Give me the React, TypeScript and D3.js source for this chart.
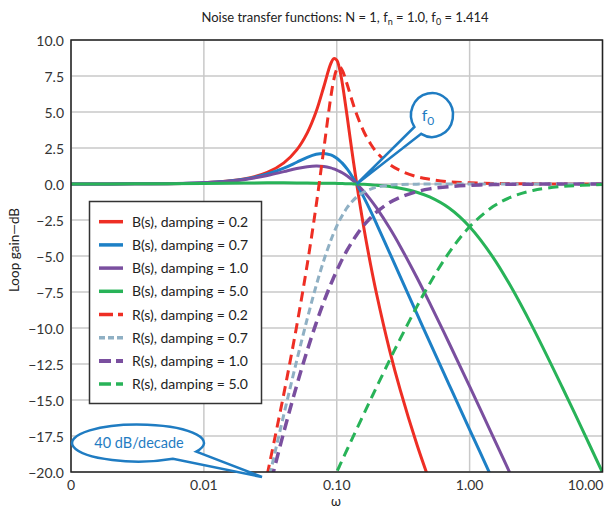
import React from "react";
import * as d3 from "d3";

// Frequency (ω) sample points shared by all series
const freq = [0.001, 0.003, 0.01, 0.02, 0.03, 0.04, 0.05, 0.06, 0.07, 0.08, 0.09, 0.095, 0.1, 0.105, 0.11, 0.12, 0.13, 0.1414, 0.16, 0.18, 0.2, 0.25, 0.3, 0.4, 0.5, 0.7, 1, 1.5, 2, 3, 5, 7, 10];

// Loop gain (dB)
const bDamp02 = [0.0, 0.01, 0.09, 0.35, 0.81, 1.47, 2.37, 3.55, 5.03, 6.77, 8.34, 8.71, 8.6, 7.99, 7.01, 4.63, 2.31, 0.0, -3.05, -5.62, -7.69, -11.55, -14.28, -18.06, -20.65, null, null, null, null, null, null, null, null];
const bDamp07 = [0.0, 0.01, 0.09, 0.33, 0.69, 1.1, 1.51, 1.85, 2.06, 2.12, 2.02, 1.92, 1.79, 1.63, 1.45, 1.03, 0.56, 0.0, -0.93, -1.89, -2.8, -4.78, -6.42, -8.99, -10.97, -13.93, -17.05, -20.59, null, null, null, null, null];
const bDamp10 = [0.0, 0.01, 0.08, 0.3, 0.59, 0.86, 1.07, 1.2, 1.25, 1.22, 1.12, 1.05, 0.97, 0.88, 0.78, 0.55, 0.3, 0.0, -0.52, -1.1, -1.68, -3.06, -4.32, -6.48, -8.26, -11.04, -14.06, -17.54, -20.02, null, null, null, null];
const bDamp50 = [0.0, 0.01, 0.04, 0.07, 0.08, 0.08, 0.07, 0.07, 0.06, 0.06, 0.05, 0.05, 0.04, 0.04, 0.03, 0.02, 0.01, 0.0, -0.02, -0.05, -0.09, -0.18, -0.3, -0.57, -0.9, -1.67, -2.97, -5.09, -6.97, -9.99, -14.15, -16.99, -20.04];
const rDamp02 = [null, null, null, null, -20.17, -14.56, -9.84, -5.57, -1.49, 2.47, 5.98, 7.24, 7.96, 8.13, 7.9, 6.89, 5.83, 4.82, 3.63, 2.78, 2.2, 1.36, 0.93, 0.51, 0.33, 0.16, 0.08, 0.04, 0.02, 0.01, 0.0, 0.0, 0.0];
const rDamp07 = [null, null, null, null, -20.94, -16.0, -12.26, -9.35, -7.06, -5.29, -3.94, -3.39, -2.92, -2.52, -2.18, -1.63, -1.23, -0.9, -0.56, -0.35, -0.22, -0.08, -0.03, -0.01, 0.0, 0.0, 0.0, 0.0, 0.0, 0.0, 0.0, 0.0, 0.0];
const rDamp10 = [null, null, null, null, -21.66, -17.21, -13.98, -11.55, -9.66, -8.17, -6.98, -6.48, -6.02, -5.61, -5.23, -4.58, -4.04, -3.52, -2.86, -2.34, -1.94, -1.29, -0.92, -0.53, -0.34, -0.18, -0.09, -0.04, -0.02, -0.01, 0.0, 0.0, 0.0];
const rDamp50 = [null, null, null, null, null, null, null, null, null, null, -20.92, -20.45, -20.0, -19.58, -19.17, -18.42, -17.73, -17.01, -15.96, -14.96, -14.08, -12.23, -10.76, -8.53, -6.92, -4.77, -2.97, -1.57, -0.95, -0.45, -0.17, -0.09, -0.04];

const seriesNames = [
  "B(s), damping = 0.2",
  "B(s), damping = 0.7",
  "B(s), damping = 1.0",
  "B(s), damping = 5.0",
  "R(s), damping = 0.2",
  "R(s), damping = 0.7",
  "R(s), damping = 1.0",
  "R(s), damping = 5.0",
];
const seriesValues = [bDamp02, bDamp07, bDamp10, bDamp50, rDamp02, rDamp07, rDamp10, rDamp50];

const xTicks = [0.001, 0.01, 0.1, 1, 10];
const xTickLabels = ["0", "0.01", "0.10", "1.00", "10.00"];
const yTicks = [10, 7.5, 5, 2.5, 0, -2.5, -5, -7.5, -10, -12.5, -15, -17.5, -20];
const yTickLabels = ["10.0", "7.5", "5.0", "2.5", "0.0", "\u22122.5", "\u22125.0", "\u22127.5", "\u221210.0", "\u221212.5", "\u221215.0", "\u221217.5", "\u221220.0"];

// styles
const RED = "#ee2e24";
const BLUE = "#1d80c6";
const PURPLE = "#7a4f9f";
const GREEN = "#28b358";
const GREYBLUE = "#8fb0c4";
const CALLOUT = "#1f7cc2";
const colors = [RED, BLUE, PURPLE, GREEN, RED, GREYBLUE, PURPLE, GREEN];
const dashes = [null, null, null, null, "10,6", "7,4", "11,6", "10,6"];
const widths = [3, 3, 3, 3, 3, 3, 3.5, 3];

const FONT = "Lato, 'Open Sans', sans-serif";

const L = 71, R = 602.5, T = 40, B = 472;

export default function App() {
  const x = d3.scaleLog().domain([0.001, 10]).range([L, R]);
  const y = d3.scaleLinear().domain([-20, 10]).range([B, T]);

  const line = d3
    .line<[number, number | null]>()
    .defined((d) => d[1] !== null)
    .x((d) => x(d[0]))
    .y((d) => y(d[1] as number))
    .curve(d3.curveCatmullRom.alpha(0.5));

  const ellipsePt = (cx: number, cy: number, rx: number, ry: number, deg: number) => {
    const t = (deg * Math.PI) / 180;
    return [cx + rx * Math.cos(t), cy + ry * Math.sin(t)];
  };
  const bubble = (cx: number, cy: number, rx: number, ry: number, a1: number, a2: number, tip: [number, number]) => {
    const p1 = ellipsePt(cx, cy, rx, ry, a1);
    const p2 = ellipsePt(cx, cy, rx, ry, a2);
    return `M${p1[0]},${p1[1]} A${rx},${ry} 0 1 1 ${p2[0]},${p2[1]} L${tip[0]},${tip[1]} Z`;
  };

  const f0x = x(0.1414);
  const f0y = y(0);

  return (
    <svg width={606} height={508} style={{ position: "absolute", left: 0, top: 0, background: "#fff" }} fontFamily={FONT}>
      <defs>
        <clipPath id="plotClip">
          <rect x={L} y={T} width={R - L} height={B - T} />
        </clipPath>
      </defs>
      {/* title */}
      <text x={345} y={22} textAnchor="middle" fontSize={13} fill="#222">
        Noise transfer functions: N = 1, f
        <tspan dy={3} fontSize={9}>n</tspan>
        <tspan dy={-3}> = 1.0, f</tspan>
        <tspan dy={3} fontSize={9}>0</tspan>
        <tspan dy={-3}> = 1.414</tspan>
      </text>
      {/* grid */}
      {yTicks.map((t) => (
        <line key={"gy" + t} x1={L} x2={R} y1={y(t)} y2={y(t)} stroke="#c9c9c9" strokeWidth={1.5} />
      ))}
      {xTicks.map((t) => (
        <line key={"gx" + t} x1={x(t)} x2={x(t)} y1={T} y2={B} stroke="#c9c9c9" strokeWidth={1.5} />
      ))}
      {/* curves */}
      <g clipPath="url(#plotClip)">
        {seriesValues.map((vals, i) => (
          <path
            key={"s" + i}
            d={line(freq.map((f, j) => [f, vals[j]] as [number, number | null])) || ""}
            fill="none"
            stroke={colors[i]}
            strokeWidth={widths[i]}
            strokeDasharray={dashes[i] || undefined}
            strokeLinejoin="round"
          />
        ))}
      </g>
      {/* frame */}
      <rect x={L} y={T} width={R - L} height={B - T} fill="none" stroke="#222" strokeWidth={1.5} />
      {/* y tick labels */}
      {yTicks.map((t, i) => (
        <text key={"yl" + t} x={64} y={y(t) + 5.5} textAnchor="end" fontSize={14} fill="#333">
          {yTickLabels[i]}
        </text>
      ))}
      {/* x tick labels */}
      {xTicks.map((t, i) => (
        <text
          key={"xl" + t}
          x={i === xTicks.length - 1 ? x(t) + 1 : x(t)}
          y={490}
          textAnchor={i === xTicks.length - 1 ? "end" : "middle"}
          fontSize={14}
          fill="#333"
        >
          {xTickLabels[i]}
        </text>
      ))}
      {/* axis titles */}
      <text transform="translate(19,250) rotate(-90)" textAnchor="middle" fontSize={13.5} fill="#222">
        Loop gain—dB
      </text>
      <text x={336} y={506} textAnchor="middle" fontSize={13} fill="#222">
        ω
      </text>
      {/* legend */}
      <rect x={89.5} y={201.5} width={172} height={202} fill="#fff" stroke="#333" strokeWidth={1.5} />
      {seriesNames.map((name, i) => {
        const ly = 221.7 + i * 23.2;
        return (
          <g key={"lg" + i}>
            <line
              x1={99}
              x2={123}
              y1={ly}
              y2={ly}
              stroke={colors[i]}
              strokeWidth={widths[i] + 0.5}
              strokeDasharray={i === 4 ? "14,5" : i === 5 ? "6,3" : i >= 6 ? "12,5" : undefined}
            />
            <text x={132} y={ly + 5} fontSize={14} fill="#222">
              {name}
            </text>
          </g>
        );
      })}
      {/* f0 callout */}
      <path d={bubble(432, 115, 21, 22, 147, 121, [f0x, f0y])} fill="#fff" stroke={CALLOUT} strokeWidth={2.5} strokeLinejoin="miter" />
      <text x={428} y={121} textAnchor="middle" fontSize={16} fill={CALLOUT}>
        f<tspan dy={4} fontSize={12}>0</tspan>
      </text>
      {/* 40 dB/decade callout */}
      <path d={bubble(138, 443, 66, 18.5, 58, 28, [262, 477])} fill="#fff" stroke={CALLOUT} strokeWidth={2.5} />
      <text x={139} y={448} textAnchor="middle" fontSize={14.5} fill={CALLOUT}>
        40 dB/decade
      </text>
    </svg>
  );
}
